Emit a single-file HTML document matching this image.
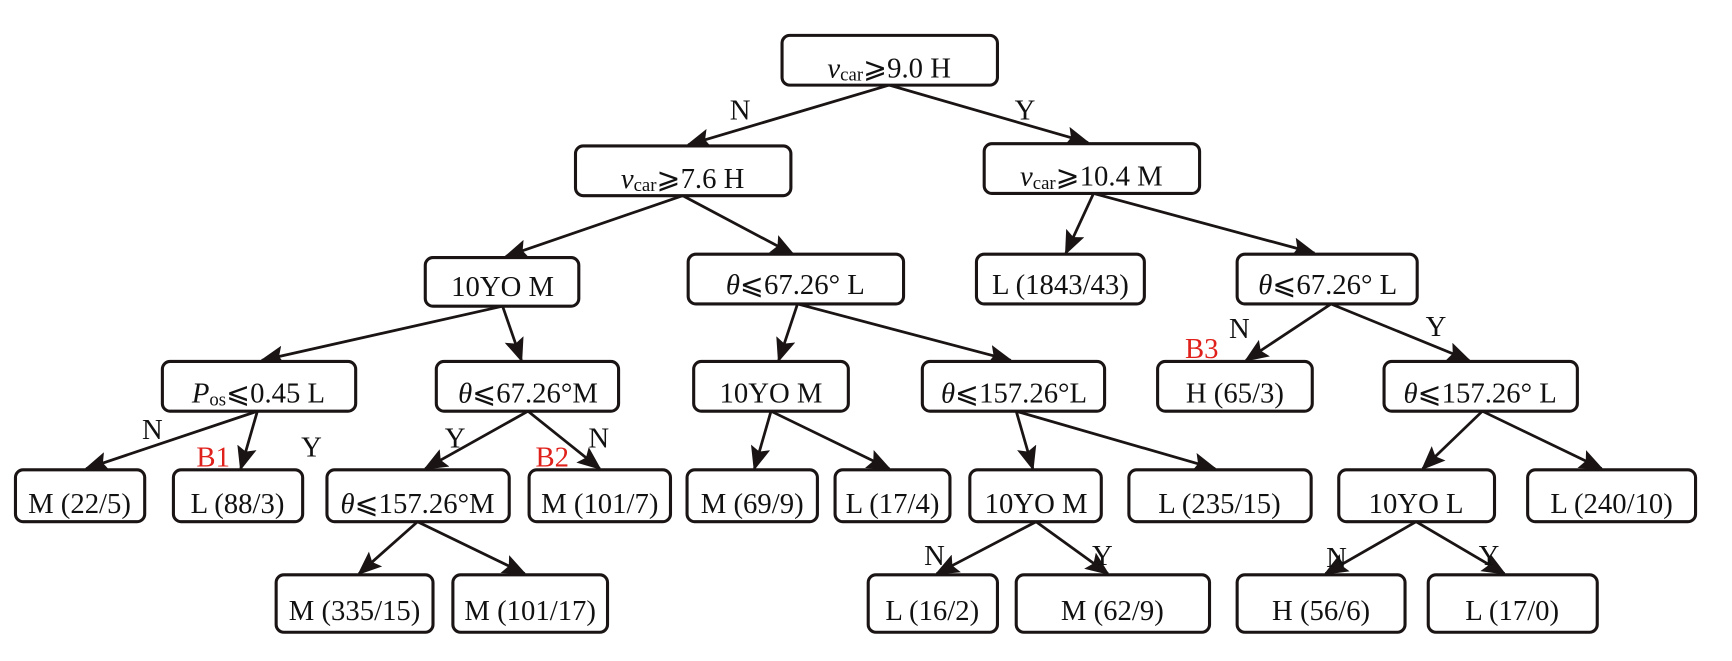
<!DOCTYPE html>
<html><head><meta charset="utf-8"><style>
html,body{margin:0;padding:0;background:#fff;}
svg{display:block;}
text{font-family:"Liberation Serif",serif;font-size:26px;fill:#111;}
.r{fill:#e0201a;}
rect{fill:#fff;stroke:#1a1414;stroke-width:2.8;}
line{stroke:#1a1414;stroke-width:2.5;}
</style></head><body>
<svg width="1732" height="661" viewBox="0 0 1568 598" preserveAspectRatio="none" xmlns="http://www.w3.org/2000/svg">
<defs>
<marker id="b" markerWidth="22" markerHeight="18" refX="20" refY="9" orient="auto" markerUnits="userSpaceOnUse"><path d="M0,0 L22,9 L0,18 L4,9 z" fill="#1a1414"/></marker></defs>
<g>
<line x1="805" y1="77" x2="623" y2="131" marker-end="url(#b)"/>
<line x1="805" y1="77" x2="985" y2="129" marker-end="url(#b)"/>
<line x1="618" y1="177" x2="458" y2="232" marker-end="url(#b)"/>
<line x1="618" y1="177" x2="718" y2="230" marker-end="url(#b)"/>
<line x1="990" y1="175" x2="965" y2="229" marker-end="url(#b)"/>
<line x1="990" y1="175" x2="1190" y2="229" marker-end="url(#b)"/>
<line x1="455" y1="277" x2="237" y2="326" marker-end="url(#b)"/>
<line x1="455" y1="277" x2="472" y2="326" marker-end="url(#b)"/>
<line x1="722" y1="275" x2="705" y2="326" marker-end="url(#b)"/>
<line x1="722" y1="275" x2="915" y2="326" marker-end="url(#b)"/>
<line x1="1205" y1="275" x2="1128" y2="326" marker-end="url(#b)"/>
<line x1="1205" y1="275" x2="1330" y2="326" marker-end="url(#b)"/>
<line x1="233" y1="372" x2="78" y2="424" marker-end="url(#b)"/>
<line x1="233" y1="372" x2="218" y2="424" marker-end="url(#b)"/>
<line x1="478" y1="372" x2="385" y2="424" marker-end="url(#b)"/>
<line x1="478" y1="372" x2="543" y2="424" marker-end="url(#b)"/>
<line x1="698" y1="372" x2="683" y2="424" marker-end="url(#b)"/>
<line x1="698" y1="372" x2="805" y2="424" marker-end="url(#b)"/>
<line x1="920" y1="372" x2="935" y2="424" marker-end="url(#b)"/>
<line x1="920" y1="372" x2="1100" y2="424" marker-end="url(#b)"/>
<line x1="1342" y1="372" x2="1288" y2="424" marker-end="url(#b)"/>
<line x1="1342" y1="372" x2="1450" y2="424" marker-end="url(#b)"/>
<line x1="378" y1="472" x2="325" y2="519" marker-end="url(#b)"/>
<line x1="378" y1="472" x2="475" y2="519" marker-end="url(#b)"/>
<line x1="938" y1="472" x2="848" y2="519" marker-end="url(#b)"/>
<line x1="938" y1="472" x2="1003" y2="519" marker-end="url(#b)"/>
<line x1="1282" y1="472" x2="1200" y2="519" marker-end="url(#b)"/>
<line x1="1282" y1="472" x2="1362" y2="519" marker-end="url(#b)"/>
</g>
<g>
<rect x="708" y="32" width="195" height="45" rx="7"/>
<rect x="521" y="132" width="195" height="45" rx="7"/>
<rect x="891" y="130" width="195" height="45" rx="7"/>
<rect x="385" y="233" width="139" height="44" rx="7"/>
<rect x="623" y="230" width="195" height="45" rx="7"/>
<rect x="884" y="230" width="152" height="45" rx="7"/>
<rect x="1120" y="230" width="163" height="45" rx="7"/>
<rect x="147" y="327" width="175" height="45" rx="7"/>
<rect x="395" y="327" width="165" height="45" rx="7"/>
<rect x="628" y="327" width="140" height="45" rx="7"/>
<rect x="835" y="327" width="165" height="45" rx="7"/>
<rect x="1048" y="327" width="140" height="45" rx="7"/>
<rect x="1253" y="327" width="175" height="45" rx="7"/>
<rect x="14" y="425" width="117" height="47" rx="7"/>
<rect x="157" y="425" width="117" height="47" rx="7"/>
<rect x="296" y="425" width="165" height="47" rx="7"/>
<rect x="479" y="425" width="128" height="47" rx="7"/>
<rect x="622" y="425" width="118" height="47" rx="7"/>
<rect x="756" y="425" width="104" height="47" rx="7"/>
<rect x="878" y="425" width="119" height="47" rx="7"/>
<rect x="1022" y="425" width="165" height="47" rx="7"/>
<rect x="1212" y="425" width="141" height="47" rx="7"/>
<rect x="1383" y="425" width="152" height="47" rx="7"/>
<rect x="250" y="520" width="142" height="52" rx="7"/>
<rect x="410" y="520" width="140" height="52" rx="7"/>
<rect x="786" y="520" width="117" height="52" rx="7"/>
<rect x="920" y="520" width="175" height="52" rx="7"/>
<rect x="1120" y="520" width="152" height="52" rx="7"/>
<rect x="1293" y="520" width="153" height="52" rx="7"/>
</g>
<g text-anchor="middle">
<text x="805" y="70"><tspan font-style="italic">v</tspan><tspan font-size="17" dy="3">car</tspan><tspan dy="-3">⩾9.0 H</tspan></text>
<text x="618" y="170"><tspan font-style="italic">v</tspan><tspan font-size="17" dy="3">car</tspan><tspan dy="-3">⩾7.6 H</tspan></text>
<text x="988" y="168"><tspan font-style="italic">v</tspan><tspan font-size="17" dy="3">car</tspan><tspan dy="-3">⩾10.4 M</tspan></text>
<text x="455" y="268">10YO M</text>
<text x="720" y="266"><tspan font-style="italic">θ</tspan>⩽67.26° L</text>
<text x="960" y="266">L (1843/43)</text>
<text x="1202" y="266"><tspan font-style="italic">θ</tspan>⩽67.26° L</text>
<text x="234" y="364"><tspan font-style="italic">P</tspan><tspan font-size="17" dy="3">os</tspan><tspan dy="-3">⩽0.45 L</tspan></text>
<text x="478" y="364"><tspan font-style="italic">θ</tspan>⩽67.26°M</text>
<text x="698" y="364">10YO M</text>
<text x="918" y="364"><tspan font-style="italic">θ</tspan>⩽157.26°L</text>
<text x="1118" y="364">H (65/3)</text>
<text x="1340" y="364"><tspan font-style="italic">θ</tspan>⩽157.26° L</text>
<text x="72" y="464">M (22/5)</text>
<text x="215" y="464">L (88/3)</text>
<text x="378" y="464"><tspan font-style="italic">θ</tspan>⩽157.26°M</text>
<text x="543" y="464">M (101/7)</text>
<text x="681" y="464">M (69/9)</text>
<text x="808" y="464">L (17/4)</text>
<text x="938" y="464">10YO M</text>
<text x="1104" y="464">L (235/15)</text>
<text x="1282" y="464">10YO L</text>
<text x="1459" y="464">L (240/10)</text>
<text x="321" y="561">M (335/15)</text>
<text x="480" y="561">M (101/17)</text>
<text x="844" y="561">L (16/2)</text>
<text x="1007" y="561">M (62/9)</text>
<text x="1196" y="561">H (56/6)</text>
<text x="1369" y="561">L (17/0)</text>
<text x="670" y="108">N</text>
<text x="928" y="108">Y</text>
<text x="1122" y="306">N</text>
<text x="1088" y="324" class="r">B3</text>
<text x="1300" y="304">Y</text>
<text x="138" y="397">N</text>
<text x="193" y="422" class="r">B1</text>
<text x="282" y="413">Y</text>
<text x="412" y="405">Y</text>
<text x="542" y="405">N</text>
<text x="500" y="422" class="r">B2</text>
<text x="846" y="511">N</text>
<text x="998" y="511">Y</text>
<text x="1210" y="513">N</text>
<text x="1348" y="511">Y</text>
</g>
</svg>
</body></html>
